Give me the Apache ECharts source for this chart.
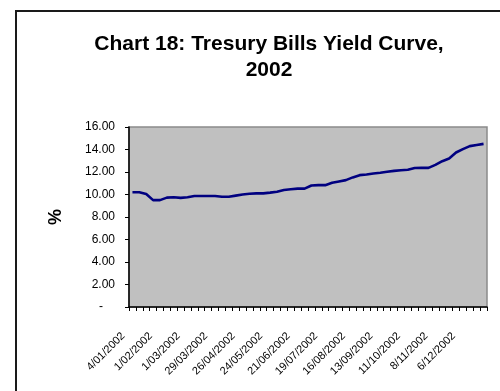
<!DOCTYPE html>
<html>
<head>
<meta charset="utf-8">
<script src="https://cdn.jsdelivr.net/npm/echarts@6/dist/echarts.min.js"></script>
<style>
  html, body { margin: 0; padding: 0; background: #fff; }
  #chart { width: 500px; height: 391px; }
</style>
</head>
<body>
<div id="chart"></div>
<script>
// Weekly treasury bill yields (%), first Friday of 2002 through year end
const weeks = [
  '4/01/2002', '11/01/2002', '18/01/2002', '25/01/2002',
  '1/02/2002', '8/02/2002', '15/02/2002', '22/02/2002',
  '1/03/2002', '8/03/2002', '15/03/2002', '22/03/2002',
  '29/03/2002', '5/04/2002', '12/04/2002', '19/04/2002',
  '26/04/2002', '3/05/2002', '10/05/2002', '17/05/2002',
  '24/05/2002', '31/05/2002', '7/06/2002', '14/06/2002',
  '21/06/2002', '28/06/2002', '5/07/2002', '12/07/2002',
  '19/07/2002', '26/07/2002', '2/08/2002', '9/08/2002',
  '16/08/2002', '23/08/2002', '30/08/2002', '6/09/2002',
  '13/09/2002', '20/09/2002', '27/09/2002', '4/10/2002',
  '11/10/2002', '18/10/2002', '25/10/2002', '1/11/2002',
  '8/11/2002', '15/11/2002', '22/11/2002', '29/11/2002',
  '6/12/2002', '13/12/2002', '20/12/2002', '27/12/2002'
];

const yields = [
  10.20, 10.20, 10.05, 9.50, 9.50, 9.72, 9.75, 9.70,
  9.75, 9.86, 9.87, 9.87, 9.87, 9.80, 9.80, 9.90,
  10.00, 10.07, 10.10, 10.10, 10.17, 10.25, 10.40, 10.46,
  10.52, 10.52, 10.80, 10.83, 10.83, 11.04, 11.16, 11.28,
  11.52, 11.72, 11.78, 11.87, 11.93, 12.02, 12.10, 12.16,
  12.20, 12.35, 12.37, 12.37, 12.63, 12.96, 13.20, 13.73,
  14.03, 14.30, 14.40, 14.50
];

const yTicks = [0, 2, 4, 6, 8, 10, 12, 14, 16];

const chart = echarts.init(document.getElementById('chart'), null, { renderer: 'canvas' });

chart.setOption({
  animation: false,
  backgroundColor: '#ffffff',
  textStyle: { fontFamily: 'Liberation Sans, Arial, sans-serif' },
  title: {
    text: 'Chart 18: Tresury Bills Yield Curve,\n2002',
    left: 264,
    top: 26,
    textAlign: 'center',
    textStyle: {
      fontFamily: 'Liberation Sans, Arial, sans-serif',
      fontSize: 21,
      fontWeight: 'bold',
      color: '#000',
      lineHeight: 26
    }
  },
  graphic: [
    {
      type: 'rect',
      silent: true,
      shape: { x: 16, y: 11, width: 600, height: 500 },
      style: { fill: 'none', stroke: '#1a1a1a', lineWidth: 2 }
    },
    {
      type: 'text',
      x: 56,
      y: 217,
      rotation: Math.PI / 2,
      style: {
        text: '%',
        font: 'bold 18px "Liberation Sans", Arial, sans-serif',
        fill: '#000',
        textAlign: 'center',
        textVerticalAlign: 'middle'
      }
    }
  ],
  grid: {
    left: 129,
    top: 127,
    width: 358,
    height: 180,
    show: true,
    backgroundColor: '#c0c0c0',
    borderColor: '#8a8a8a',
    borderWidth: 1.5
  },
  xAxis: {
    type: 'category',
    data: weeks,
    boundaryGap: true,
    axisLine: { lineStyle: { color: '#000', width: 1.5 } },
    axisTick: {
      show: true,
      alignWithLabel: false,
      interval: 0,
      length: 4,
      lineStyle: { color: '#000', width: 1 }
    },
    axisLabel: {
      interval: 3,
      rotate: 45,
      margin: 18,
      padding: [0, 13, 0, 0],
      fontSize: 11,
      color: '#000'
    },
    splitLine: { show: false }
  },
  yAxis: {
    type: 'value',
    min: yTicks[0],
    max: yTicks[yTicks.length - 1],
    interval: 2,
    axisLine: { show: true, lineStyle: { color: '#000', width: 1.5 } },
    axisTick: { show: true, length: 4, lineStyle: { color: '#000', width: 1 } },
    axisLabel: {
      margin: 14,
      fontSize: 12,
      color: '#000',
      formatter: function (v) {
        return v === 0 ? '{dash|-}' : v.toFixed(2);
      },
      rich: {
        dash: { fontSize: 12, color: '#000', padding: [0, 12, 0, 0] }
      }
    },
    splitLine: { show: false }
  },
  series: [
    {
      type: 'line',
      data: yields,
      symbol: 'none',
      smooth: false,
      lineStyle: { color: '#000080', width: 2.6 }
    }
  ]
});
</script>
</body>
</html>
